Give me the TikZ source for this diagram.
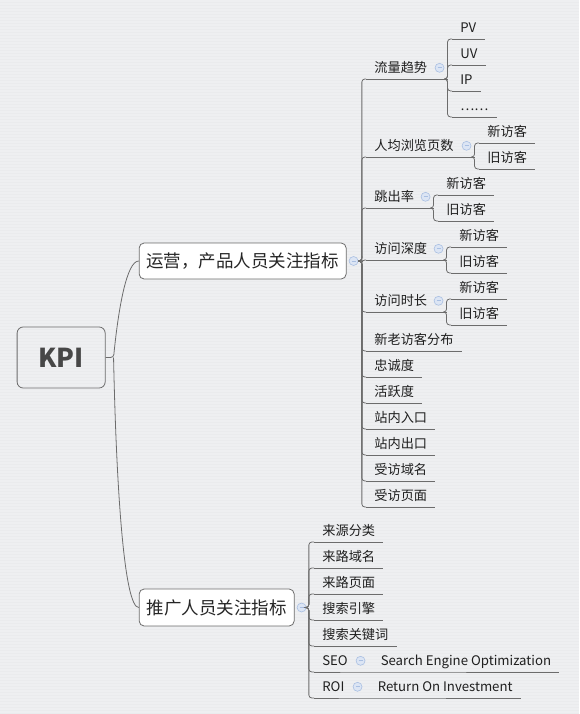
\documentclass[tikz,border=0pt]{standalone}
\usepackage{fontspec}
\newfontfamily\cjk{Noto Sans CJK SC}
\usetikzlibrary{positioning}
\definecolor{bg}{HTML}{EEEFF1}
\definecolor{lnk}{HTML}{6C6C6C}
\definecolor{dotc}{HTML}{A9BFE2}
\definecolor{dotf}{HTML}{DCE5F4}
\tikzset{
  topic/.style={draw=lnk,rounded corners=5pt,fill=white,line width=0.8pt,font=\cjk\fontsize{17.5}{20}\selectfont,text=black!85},
  leaf/.style={anchor=south west,inner xsep=8pt,inner ysep=4.5pt,text height=11pt,text depth=2pt,align=left,font=\cjk\fontsize{13.2}{15}\selectfont,text=black!88},
  link/.style={draw=lnk,line width=0.8pt,rounded corners=3pt},
  fold/.style={circle,draw=dotc,fill=dotf,inner sep=0pt,minimum size=9pt,line width=0.6pt,
    path picture={\draw[dotc,line width=0.7pt] ([xshift=-2pt]path picture bounding box.center) -- ([xshift=2pt]path picture bounding box.center);}}
}
\begin{document}
\begin{tikzpicture}[x=1pt,y=-1pt]
\fill[bg] (0,0) rectangle (579,714);
\foreach \y in {2,5,...,713} \draw[bg!98.5!black,line width=0.3pt] (0,\y) -- (579,\y);
\useasboundingbox (0,0) rectangle (579,714);

\node[draw=lnk,rounded corners=6pt,line width=0.8pt,minimum width=88pt,minimum height=61pt,font=\cjk\bfseries\fontsize{26}{28}\selectfont,text=black!72] (kpi) at (61,357.5) {KPI};
\node[topic,minimum width=207pt,minimum height=36pt] (ops) at (242.5,261) {运营，产品人员关注指标};
\node[topic,minimum width=155pt,minimum height=37pt] (promo) at (216.5,607.5) {推广人员关注指标};
\node[fold] (ops-f) at ([xshift=7pt]ops.east) {};
\node[fold] (promo-f) at ([xshift=7pt]promo.east) {};

\draw[link] (kpi.east) -- ++(8,0) coordinate (j) .. controls +(5,-50) and +(-12,0) .. (ops.west);
\draw[link] (j) .. controls +(3,140) and +(-14,0) .. (promo.west);

% operations branch
\foreach \p/\lbl/\yy/\tw/\kids in {
  flow/流量趋势/79/65/{PV/39,UV/65,IP/91,……/117},
  pages/人均浏览页数/157/92/{新访客/143,旧访客/169},
  bounce/跳出率/208/51/{新访客/195,旧访客/221},
  depth/访问深度/260/64/{新访客/247,旧访客/273},
  time/访问时长/312/64/{新访客/299,旧访客/325}}{
  \node[leaf,text width=\tw pt] (\p) at (366,\yy) {\lbl};
  \node[fold] (\p-f) at ([xshift=-8pt]\p.east) {};
  \draw[link] (\p.south west) -- (\p.south east);
  \draw[link] (ops-f.east) -- ++(3.5,0) |- (\p.south west);
  \foreach \k/\ky [count=\m] in \kids {
    \node[leaf] (\p-\m) at ({387+\tw},\ky) {\k};
    \draw[link] (\p-\m.south west) -- (\p-\m.south east);
    \draw[link] ([xshift=-3pt]\p.south east) -- (\p.south east) |- (\p-\m.south west);
  }
}
\foreach \lbl/\yy [count=\n] in {新老访客分布/351,忠诚度/377,活跃度/403,站内入口/429,站内出口/455,受访域名/481,受访页面/507}{
  \node[leaf] (L\n) at (366,\yy) {\lbl};
  \draw[link] (L\n.south west) -- (L\n.south east);
  \draw[link] (ops-f.east) -- ++(3.5,0) |- (L\n.south west);
}

% promotion branch
\foreach \lbl/\yy [count=\n] in {来源分类/542,来路域名/568,来路页面/594,搜索引擎/620,搜索关键词/646}{
  \node[leaf] (R\n) at (314,\yy) {\lbl};
  \draw[link] (R\n.south west) -- (R\n.south east);
  \draw[link] (promo-f.east) -- ++(2.5,0) |- (R\n.south west);
}
\node[leaf,text width=38pt] (seo) at (314,672) {SEO};
\node[fold] (seo-f) at ([xshift=-8pt]seo.east) {};
\node[leaf] (seo-1) at ([xshift=4pt]seo.south east) {Search Engine Optimization};
\node[leaf,text width=35pt] (roi) at (314,698) {ROI};
\node[fold] (roi-f) at ([xshift=-8pt]roi.east) {};
\node[leaf] (roi-1) at ([xshift=4pt]roi.south east) {Return On Investment};
\foreach \n in {seo,roi}{
  \draw[link] (\n.south west) -- (\n.south east) -- (\n-1.south west) -- (\n-1.south east);
  \draw[link] (promo-f.east) -- ++(2.5,0) |- (\n.south west);
}
\end{tikzpicture}
\end{document}
